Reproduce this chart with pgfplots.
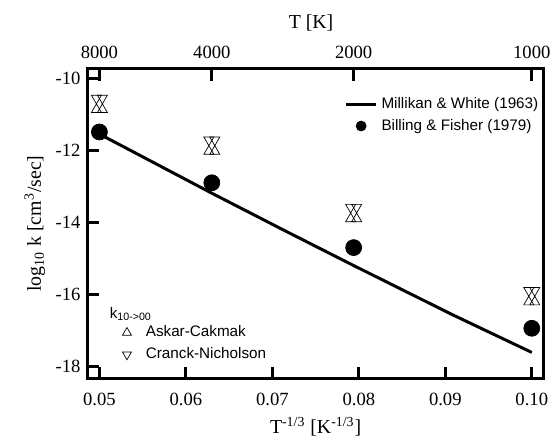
\documentclass[border=0pt]{standalone}
\usepackage{fontspec}
\setmainfont{Liberation Serif}
\newfontfamily\legfont{Liberation Sans}
\usepackage{pgfplots}
\pgfplotsset{compat=1.18}
\pgfplotsset{
  markleg/.style={legend image code/.code={\pgfpathrectangle{\pgfpoint{0bp}{-1bp}}{\pgfpoint{15bp}{2bp}}\pgfusepath{discard}\draw[mark repeat=2,mark phase=2,##1] plot coordinates {(0bp,0bp)(7.5bp,0bp)(15bp,0bp)};}},
}
\begin{document}
\begin{tikzpicture}
\pgfplotsset{
  common/.style={
    scale only axis, width=229.5bp, height=156bp,
    xmin=0.04862, xmax=0.10138, ymin=-18.33, ymax=-9.72,
    axis line style={line width=1.5bp},
    every tick/.style={line width=1.5bp, black},
    major tick length=6bp,
    tick align=inside,
    tick label style={font=\fontsize{9.4}{11}\selectfont},
    label style={font=\fontsize{9.4}{11}\selectfont},
    legend image code/.code={\draw[mark repeat=2,mark phase=2,#1] plot coordinates {(0bp,0bp)(7.5bp,0bp)(15bp,0bp)};},
  }
}
\begin{axis}[common,
  xtick={0.05,0.06,0.07,0.08,0.09,0.10},
  xticklabels={0.05,0.06,0.07,0.08,0.09,0.10},
  ytick={-18,-16,-14,-12,-10},
  yticklabels={-18,-16,-14,-12,-10},
  xtick pos=bottom, ytick pos=left,
  xticklabel style={yshift=-3.5bp},
  xlabel={T\textsuperscript{-1/3} [K\textsuperscript{-1/3}]},
  ylabel={log\textsubscript{10} k [cm\textsuperscript{3}/sec]},
  every axis x label/.style={at={(axis description cs:0.5,-0.176)}, anchor=base},
  every axis y label/.style={at={(axis description cs:-0.1155,0.5)}, rotate=90, anchor=center},
  legend style={draw=none, fill=none, at={(rel axis cs:0.55,0.935)}, anchor=north west,
    font=\legfont\fontsize{7.7}{9}\selectfont, row sep=0bp},
  legend cell align=left,
]
\addplot[black, line width=1.5bp, forget plot] coordinates {
  (0.0501,-11.55) (0.063,-13.18) (0.0716,-14.24)
  (0.0795,-15.20) (0.0908,-16.55) (0.1000,-17.60)};
\addplot[black, only marks, mark=*, mark size=4bp, forget plot] coordinates {
  (0.05,-11.48) (0.063,-12.89) (0.0794,-14.69) (0.1,-16.93)};
\addlegendimage{black, line width=1.5bp}
\addlegendentry{Millikan \& White (1963)}
\addlegendimage{black, only marks, mark=*, mark size=2.5bp, markleg}
\addlegendentry{Billing \& Fisher (1979)}
\end{axis}
\begin{axis}[common,
  hide y axis,
  xtick={0.05,0.063,0.0794,0.1},
  xticklabels={8000,4000,2000,1000},
  xtick pos=top, xticklabel pos=top,
  xticklabel style={yshift=1.5bp},
  xlabel={T [K]},
  every axis x label/.style={at={(axis description cs:0.49,1.13)}, anchor=base},
  legend style={draw=none, fill=none, at={(rel axis cs:0.04,0.198)}, anchor=north west,
    font=\legfont\fontsize{7.7}{9}\selectfont, row sep=0bp},
  legend cell align=left,
]
\addplot[black, only marks, mark=triangle, mark size=2.9bp, mark options={xshift=-1.5bp, yshift=-2.9bp, line width=0.35bp}, forget plot] coordinates {
  (0.05,-10.70) (0.063,-11.86) (0.0794,-13.73) (0.1,-16.04)};
\addplot[black, only marks, mark=triangle, mark size=2.9bp, mark options={xshift=1.5bp, yshift=-2.9bp, line width=0.35bp}, forget plot] coordinates {
  (0.05,-10.70) (0.063,-11.86) (0.0794,-13.73) (0.1,-16.04)};
\addplot[black, only marks, mark=triangle, mark size=2.9bp, mark options={xshift=-1.5bp, yshift=2.9bp, rotate=180, line width=0.35bp}, forget plot] coordinates {
  (0.05,-10.70) (0.063,-11.86) (0.0794,-13.73) (0.1,-16.04)};
\addplot[black, only marks, mark=triangle, mark size=2.9bp, mark options={xshift=1.5bp, yshift=2.9bp, rotate=180, line width=0.35bp}, forget plot] coordinates {
  (0.05,-10.70) (0.063,-11.86) (0.0794,-13.73) (0.1,-16.04)};
\addlegendimage{black, only marks, mark=triangle, mark size=2.6bp, mark options={line width=0.35bp}, markleg}
\addlegendentry{Askar-Cakmak}
\addlegendimage{black, only marks, mark=triangle, mark size=2.6bp, mark options={rotate=180, line width=0.35bp}, markleg}
\addlegendentry{Cranck-Nicholson}
\node[anchor=base west, font=\legfont\fontsize{7.7}{9}\selectfont, inner sep=0pt] at (rel axis cs:0.048,0.195) {k\textsubscript{10->00}};
\end{axis}
\path[use as bounding box] (-44bp,-29bp) rectangle (234.5bp,190.5bp);
\end{tikzpicture}
\end{document}
